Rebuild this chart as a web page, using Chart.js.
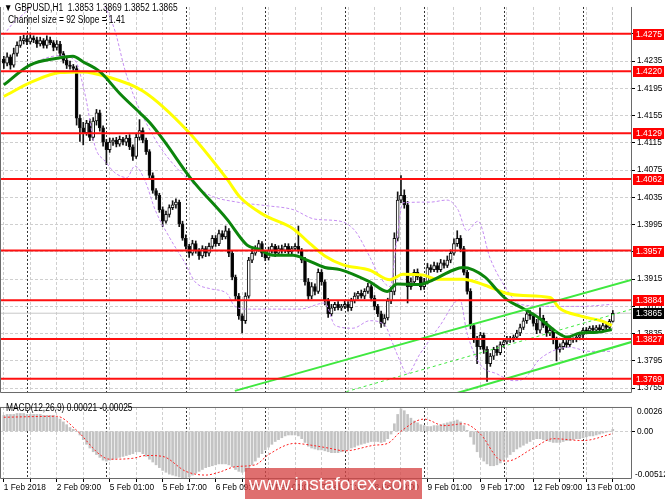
<!DOCTYPE html>
<html>
<head>
<meta charset="utf-8">
<script src="https://cdn.jsdelivr.net/npm/chart.js@4.4.1/dist/chart.umd.min.js"></script>
<style>
  body { margin: 0; background: #fff; width: 665px; height: 499px; overflow: hidden; position: relative; font-family: "Liberation Sans", Arial, sans-serif; }
  #main { position: absolute; left: 0; top: 0; }
  #macd { position: absolute; left: 0; top: 400px; }
  .txt { position: absolute; font-size: 10px; color: #000; white-space: pre; transform: scaleX(0.84); transform-origin: 0 0; }
  #wm { position: absolute; left: 245px; top: 468px; width: 177px; height: 31px; background: rgba(214, 70, 70, 0.78);
        color: #fff; font-size: 19px; line-height: 31px; text-align: center; }
</style>
</head>
<body>
<canvas id="main" width="665" height="400"></canvas>
<canvas id="macd" width="665" height="99"></canvas>
<div class="txt" style="left:4px;top:2px">▼ GBPUSD,H1  1.3853 1.3869 1.3852 1.3865</div>
<div class="txt" style="left:8px;top:14px">Channel size = 92 Slope = 1.41</div>
<div class="txt" style="left:6px;top:402px">MACD(12,26,9) 0.00021 -0.00025</div>
<div id="wm">www.instaforex.com</div>
<script>
// GBPUSD H1, 1 Feb 17:00 .. 13 Feb 09:00 (bar index 0..184)
const firstOpen = 1.4238;
const closes = [
  1.4232,1.4241,1.4229,1.4246,1.4258,1.4265,1.4268,1.4263,1.4269,1.4266,
  1.4260,1.4265,1.4258,1.4266,1.4262,1.4255,1.4260,1.4246,1.4236,1.4229,
  1.4227,1.4224,1.4151,1.4137,1.4130,1.4144,1.4123,1.4147,1.4159,1.4137,
  1.4116,1.4105,1.4116,1.4119,1.4113,1.4120,1.4116,1.4122,1.4109,1.4095,
  1.4123,1.4133,1.4119,1.4102,1.4067,1.4045,1.4038,1.4017,1.4000,1.4010,
  1.4020,1.4024,1.4028,1.3996,1.3975,1.3963,1.3953,1.3967,1.3957,1.3949,
  1.3960,1.3953,1.3963,1.3975,1.3967,1.3982,1.3977,1.3986,1.3953,1.3918,
  1.3890,1.3861,1.3854,1.3890,1.3943,1.3953,1.3960,1.3967,1.3953,1.3946,
  1.3957,1.3963,1.3953,1.3960,1.3957,1.3963,1.3955,1.3960,1.3963,1.3957,
  1.3943,1.3911,1.3890,1.3904,1.3897,1.3925,1.3911,1.3883,1.3864,1.3873,
  1.3878,1.3873,1.3875,1.3878,1.3873,1.3883,1.3890,1.3894,1.3890,1.3897,
  1.3904,1.3887,1.3875,1.3864,1.3850,1.3858,1.3883,1.3897,1.3975,1.4031,
  1.4038,1.4024,1.3904,1.3911,1.3925,1.3918,1.3904,1.3911,1.3932,1.3929,
  1.3935,1.3929,1.3939,1.3935,1.3943,1.3953,1.3967,1.3975,1.3960,1.3925,
  1.3897,1.3847,1.3826,1.3816,1.3833,1.3812,1.3791,1.3802,1.3812,1.3807,
  1.3819,1.3823,1.3826,1.3827,1.3830,1.3836,1.3844,1.3854,1.3864,1.3861,
  1.3850,1.3840,1.3858,1.3847,1.3836,1.3840,1.3826,1.3812,1.3816,1.3822,
  1.3819,1.3826,1.3826,1.3830,1.3833,1.3840,1.3839,1.3843,1.3840,1.3844,
  1.3841,1.3847,1.3844,1.3853,1.3865
];
// wick lengths in pips above / below the body
const wickUp = [
  4,6,3,8,5,6,5,4,7,3, 4,5,3,6,4,3,5,4,3,4, 6,3,4,5,8,4,6,5,5,4, 3,4,6,3,4,5,3,4,5,3,
  6,16,4,3,3,4,3,3,4,5, 4,6,5,3,4,5,3,5,4,3, 4,3,5,4,4,5,4,7,3,3, 3,4,3,5,4,6,4,5,3,4,
  5,4,3,4,5,4,4,3,4,30, 3,4,5,6,4,5,4,3,4,5, 3,4,3,5,4,4,5,3,5,4, 5,3,4,3,4,5,4,6,8,12,
  29,8,5,6,4,5,3,5,6,4, 5,4,5,4,6,5,7,11,4,3, 3,4,3,5,4,3,4,4,3,5, 4,3,5,4,3,4,5,4,7,5,
  4,6,15,4,6,5,3,4,4,5, 3,4,3,4,4,3,4,3,4,3, 4,3,4,3,4
];
const wickDn = [
  8,4,6,3,4,3,5,4,3,4, 5,3,4,4,3,5,4,3,4,5, 4,3,10,20,18,4,5,4,6,5, 6,22,4,5,4,3,4,5,4,6,
  3,4,4,4,5,4,6,4,8,3, 4,3,5,4,3,4,6,3,4,5, 3,5,4,3,4,3,4,3,5,4, 6,5,18,4,3,4,3,4,5,4,
  3,4,5,3,4,3,4,4,3,4, 4,5,6,4,5,3,5,6,5,3, 4,3,4,3,5,4,3,4,3,4, 3,4,5,4,6,4,3,4,5,4,
  4,5,24,4,5,4,5,4,3,4, 3,4,3,4,3,4,3,4,5,4, 4,5,4,25,4,6,26,4,5,4, 3,4,3,4,4,3,4,3,4,5,
  4,5,4,3,5,4,6,17,4,4, 4,3,4,3,4,4,3,4,3,3, 3,4,3,3,1
];
// indicator lines read as [bar, price]
const greenMA = [[0,1.4200],[7.9,1.4229],[16.1,1.4239],[20.9,1.4242],[23.9,1.4234],[29.1,1.4219],[35.1,1.4187],
  [41.1,1.4159],[44.2,1.4144],[48.7,1.4116],[56.3,1.4064],[67.4,1.4003],[73.5,1.3965],[77.4,1.3958],[81.3,1.3950],
  [87.4,1.3950],[91.6,1.3943],[97,1.3932],[101.6,1.3929],[110.6,1.3911],[115.8,1.3897],[118.8,1.3908],[125.7,1.3907],
  [129.7,1.3914],[135.7,1.3928],[138.7,1.3932],[145.4,1.3918],[149,1.3899],[152,1.3885],[156.9,1.3872],[162,1.3857],
  [167.1,1.3837],[170.2,1.3830],[174.1,1.3836],[179.2,1.3837],[183.7,1.3841]];
const yellowMA = [[0,1.4183],[8.8,1.4205],[17,1.4218],[23.9,1.4219],[31.2,1.4212],[42,1.4191],[55.4,1.4133],
  [67.4,1.4062],[71.4,1.4035],[78.3,1.4010],[87.4,1.3989],[92.5,1.3967],[97,1.3949],[102.5,1.3936],[110.6,1.3928],
  [116.7,1.3914],[120.6,1.3922],[126.6,1.3921],[130.9,1.3915],[138.7,1.3915],[145.4,1.3906],[152,1.3894],
  [156.9,1.3891],[165,1.3888],[168,1.3872],[174.1,1.3861],[181,1.3853],[183.7,1.3847]];
const bandUpper = [[0,1.4273],[2.5,1.4289],[6.4,1.4306],[9.4,1.4321],[17,1.4342],[26,1.4335],[30.6,1.4314],
  [33.6,1.4279],[36.6,1.4222],[39.6,1.4180],[42.7,1.4147],[47.2,1.4109],[51.7,1.4081],[56.3,1.4059],[62.3,1.4038],
  [70.5,1.4028],[78.9,1.4023],[87.4,1.4017],[94,1.4003],[101.6,1.4000],[106.1,1.3986],[110,1.3953],[113.7,1.3918],
  [116.7,1.3904],[118.8,1.3975],[120.6,1.4027],[128.8,1.4028],[133.9,1.4031],[137.2,1.4017],[139.9,1.3986],
  [143.3,1.4000],[146.9,1.3946],[151.4,1.3904],[156,1.3878],[165,1.3875],[174.1,1.3875],[183.7,1.3878]];
const bandLower = [[0,1.4201],[4.9,1.4218],[10.9,1.4236],[17,1.4243],[21.5,1.4236],[24.5,1.4187],[27.6,1.4109],
  [30.6,1.4088],[33.6,1.4071],[37.2,1.4064],[39.6,1.4081],[42.7,1.4059],[45.7,1.4017],[50.2,1.3975],[54.7,1.3939],
  [57.8,1.3911],[62.3,1.3901],[67.4,1.3894],[69.8,1.3875],[73.5,1.3871],[89.5,1.3871],[97,1.3880],[100.1,1.3847],
  [105.5,1.3843],[110.6,1.3854],[115.2,1.3847],[117.3,1.3823],[119.7,1.3795],[121.8,1.3776],[125.7,1.3805],
  [131.8,1.3847],[137.8,1.3885],[139.9,1.3837],[143.9,1.3790],[149,1.3776],[153.9,1.3766],[156.9,1.3768],
  [162,1.3798],[170.9,1.3815],[177.1,1.3809],[183.7,1.3809]];
// regression channel (ends of each line)
const chanUpper = [[69.8,1.3751],[189.8,1.3914]];
const chanMid = [[100,1.3745],[189.8,1.3871]];
const chanLower = [[137,1.3748],[189.8,1.3823]];
const levels = [1.4275, 1.4220, 1.4129, 1.4062, 1.3957, 1.3884, 1.3827, 1.3769];
const priceTicks = [1.3755,1.3795,1.3835,1.3875,1.3915,1.3955,1.3995,1.4035,1.4075,1.4115,1.4155,1.4195,1.4235,1.4275];
// MACD main (histogram) in units of 0.0001, one per bar
const macdHist = [
  17,18,18,18,19,19,19,18,18,18,18,18,17,17,17,17, 15,13,10,7,4,2,0,
  -4,-9,-14,-18,-22,-25,-28,-31,-32, -31,-30,-29,-28,-27,-26,-25,-24,-22,-22,
  -24,-27,-30,-33,-36,-39,-42,-44,-46,-47,-48,-49,-50,-50,-49,
  -47,-45,-43,-41,-39,-38,-37,-36,-35,-35,-35,-36,-38,-41,
  -43,-44,-43,-40,-36,-32,-28,-24,-20,-17, -14,-11,-9,-7,-5,-4,-4,-4,-5,-8,
  -12,-16,-18,-19,-20,-20,-21,-22,-23,-23, -23,-22,-21,-20,-18,-17,-15,-14,-13,-12,-11,-11,
  -11,-12,-11,-8,-3, 8,18,24,22,18,14,11,9, 7,6,5,5,6,6,7,8,9,10,11, 12,10,6,1,
  -6,-14,-22,-28,-32,-35,-37,-37, -36,-34,-31,-28,-25,-22,-19,-17,-15,
  -13,-11,-9,-8,-8,-9,-10,-11,-12, -12,-12,-11,-10,-10,-9,-8,-8,-7, -6,-5,-5,-4,-3,-2,-1,0,2
];
const macdSignal = [[0,15],[16,16],[22,1],[29,-25],[32,-30],[39,-29],[43,-26],[48,-27],[55,-43],[61,-47],
  [65,-44],[70,-38],[76,-36],[80,-25],[88,-13],[91,-14],[98,-18],[103,-21],[112,-15],[116,-13],[120,0],
  [127,13],[133,6],[139,8],[144,-3],[150,-31],[152,-32],[160,-18],[166,-8],[175,-10],[184,-2.5]];
const timeLabels = ['1 Feb 2018','2 Feb 09:00','5 Feb 01:00','5 Feb 17:00','6 Feb 09:00','7 Feb 01:00',
  '7 Feb 17:00','8 Feb 09:00','9 Feb 01:00','9 Feb 17:00','12 Feb 09:00','13 Feb 01:00'];
const dayStarts = [7, 31, 55, 79, 103, 127, 151, 175];

const PIP = 0.0001;
const xMin = -1.15, xMax = 189.8;
const priceMin = 1.37479, priceMax = 1.43143;
const macdMin = -0.00512, macdMax = 0.0026;
const FONT = '"Liberation Sans", Arial, sans-serif';

const opens = closes.map((c, i) => i === 0 ? firstOpen : closes[i - 1]);
const highs = closes.map((c, i) => Math.max(opens[i], c) + wickUp[i] * PIP);
const lows = closes.map((c, i) => Math.min(opens[i], c) - wickDn[i] * PIP);
const pts = arr => arr.map(p => ({ x: p[0], y: p[1] }));

Chart.defaults.font.family = FONT;
Chart.defaults.font.size = 8.3;
Chart.defaults.color = '#000';
Chart.defaults.animation = false;

const gridTicks = [];
for (let b = 0; b <= 184; b += 8) gridTicks.push({ value: b });

function lineDs(data, color, width, dash, order, smooth) {
  return { type: 'line', data: data, borderColor: color, borderWidth: width, borderDash: dash || [],
    pointRadius: 0, fill: false, order: order, cubicInterpolationMode: smooth ? 'monotone' : 'default' };
}

function drawSeparators(chart) {
  const { ctx, chartArea: a, scales: { x } } = chart;
  ctx.save();
  ctx.strokeStyle = '#333';
  ctx.lineWidth = 1;
  ctx.setLineDash([2, 2]);
  dayStarts.forEach(b => {
    const px = Math.round(x.getPixelForValue(b)) + 0.5;
    ctx.beginPath(); ctx.moveTo(px, a.top); ctx.lineTo(px, a.bottom); ctx.stroke();
  });
  ctx.restore();
}

function drawFrame(chart, top) {
  const { ctx, chartArea: a } = chart;
  ctx.save();
  ctx.strokeStyle = '#6a6a6a';
  ctx.lineWidth = 1;
  ctx.beginPath();
  ctx.moveTo(a.left + 0.5, a.top); ctx.lineTo(a.left + 0.5, a.bottom - 0.5);
  ctx.lineTo(a.right - 0.5, a.bottom - 0.5); ctx.lineTo(a.right - 0.5, a.top);
  if (top) { ctx.moveTo(a.left, a.top + 0.5); ctx.lineTo(a.right, a.top + 0.5); }
  ctx.stroke();
  ctx.restore();
}

function priceBox(ctx, y, text, bg) {
  ctx.fillStyle = bg;
  ctx.fillRect(633, Math.round(y) - 5, 31, 11);
  ctx.fillStyle = '#fff';
  ctx.textBaseline = 'middle';
  ctx.textAlign = 'left';
  ctx.fillText(text, 636, Math.round(y) + 0.5);
}

const mainOverlay = {
  id: 'mainOverlay',
  beforeDatasetsDraw(chart) { drawSeparators(chart); },
  afterDraw(chart) {
    drawFrame(chart, false);
    const { ctx, scales: { y } } = chart;
    ctx.save();
    ctx.font = '8.5px ' + FONT;
    levels.forEach(l => priceBox(ctx, y.getPixelForValue(l), l.toFixed(4), '#ff0000'));
    const last = closes[closes.length - 1];
    priceBox(ctx, y.getPixelForValue(last), last.toFixed(4), '#000');
    ctx.restore();
  }
};

const macdOverlay = {
  id: 'macdOverlay',
  beforeDatasetsDraw(chart) { drawSeparators(chart); },
  afterDraw(chart) {
    drawFrame(chart, true);
    const { ctx, scales: { y } } = chart;
    ctx.save();
    ctx.font = '8.3px ' + FONT;
    ctx.fillStyle = '#000';
    ctx.textBaseline = 'middle';
    ctx.fillText('0.0026', 637, y.getPixelForValue(macdMax) + 5);
    ctx.fillText('-0.00512', 635, y.getPixelForValue(macdMin) - 4);
    ctx.restore();
  }
};

const idx = closes.map((c, i) => i);
const mainDatasets = [
  { type: 'bar', data: idx.map(i => ({ x: i, y: [lows[i], highs[i]] })), backgroundColor: '#111',
    barThickness: 1, grouped: false, order: 6 },
  { type: 'bar', data: idx.map(i => ({ x: i, y: [opens[i], closes[i]] })),
    backgroundColor: idx.map(i => closes[i] >= opens[i] ? '#fff' : '#000'), borderColor: '#111', borderWidth: 1,
    borderSkipped: false, barThickness: 3, minBarLength: 1, grouped: false, order: 5 },
  lineDs(pts(bandUpper), '#c58df2', 1, [3, 2], 4, true),
  lineDs(pts(bandLower), '#c58df2', 1, [3, 2], 4, true),
  lineDs([{ x: xMin, y: closes[closes.length - 1] }, { x: xMax, y: closes[closes.length - 1] }], '#c8c8c8', 1, [], 7, false),
  lineDs(pts(yellowMA), '#ffff00', 3, [], 3, true),
  lineDs(pts(greenMA), '#0c850c', 3, [], 2, true),
  lineDs(pts(chanUpper), '#3fe83f', 2, [], 1, false),
  lineDs(pts(chanLower), '#3fe83f', 2, [], 1, false),
  lineDs(pts(chanMid), '#3fe83f', 1, [3, 3], 1, false)
];
levels.forEach(l => mainDatasets.push(lineDs([{ x: xMin, y: l }, { x: xMax, y: l }], '#ff1010', 2, [], 0, false)));

const xCommon = {
  type: 'linear', min: xMin, max: xMax, offset: false,
  afterBuildTicks: s => { s.ticks = gridTicks.map(t => ({ value: t.value })); },
  grid: { color: '#cfcfcf', offset: false, tickColor: '#000', tickLength: 3 },
  border: { display: false, dash: [3, 2] }
};

new Chart(document.getElementById('main'), {
  type: 'bar',
  data: { datasets: mainDatasets },
  options: {
    responsive: false,
    layout: { padding: { left: 0, top: 0, right: 0, bottom: 0 } },
    plugins: { legend: { display: false }, tooltip: { enabled: false } },
    scales: {
      x: Object.assign({}, xCommon, {
        ticks: { display: false },
        grid: { color: '#cfcfcf', offset: false, drawTicks: false },
        afterFit: s => { s.height = 0; }
      }),
      y: {
        position: 'right', min: priceMin, max: priceMax,
        afterBuildTicks: s => { s.ticks = priceTicks.map(v => ({ value: v })); },
        afterFit: s => { s.width = 33; },
        ticks: { padding: 2, callback: v => v.toFixed(4) },
        grid: { color: '#cfcfcf', tickColor: '#000', tickLength: 3 },
        border: { display: false, dash: [3, 2] }
      }
    }
  },
  plugins: [mainOverlay]
});

new Chart(document.getElementById('macd'), {
  type: 'bar',
  data: {
    datasets: [
      lineDs(pts(macdSignal.map(p => [p[0], p[1] * PIP])), '#ff2020', 1, [2, 2], 0, true),
      { type: 'bar', data: idx.map(i => ({ x: i, y: macdHist[i] * PIP })), backgroundColor: '#c3c3c3',
        barThickness: 2, grouped: false, order: 1 }
    ]
  },
  options: {
    responsive: false,
    layout: { padding: { left: 0, top: 1, right: 0, bottom: 0 } },
    plugins: { legend: { display: false }, tooltip: { enabled: false } },
    scales: {
      x: Object.assign({}, xCommon, {
        ticks: { autoSkip: false, maxRotation: 0, align: 'start', padding: 1,
          callback: v => (v % 16 === 0 ? timeLabels[v / 16] : '') },
        afterFit: s => { s.height = 20; }
      }),
      y: {
        position: 'right', min: macdMin, max: macdMax,
        afterBuildTicks: s => { s.ticks = [{ value: 0 }]; },
        afterFit: s => { s.width = 33; },
        ticks: { padding: 2, callback: () => '0.00' },
        grid: { color: '#cfcfcf', tickColor: '#000', tickLength: 3 },
        border: { display: false, dash: [3, 2] }
      }
    }
  },
  plugins: [macdOverlay]
});
</script>
</body>
</html>
